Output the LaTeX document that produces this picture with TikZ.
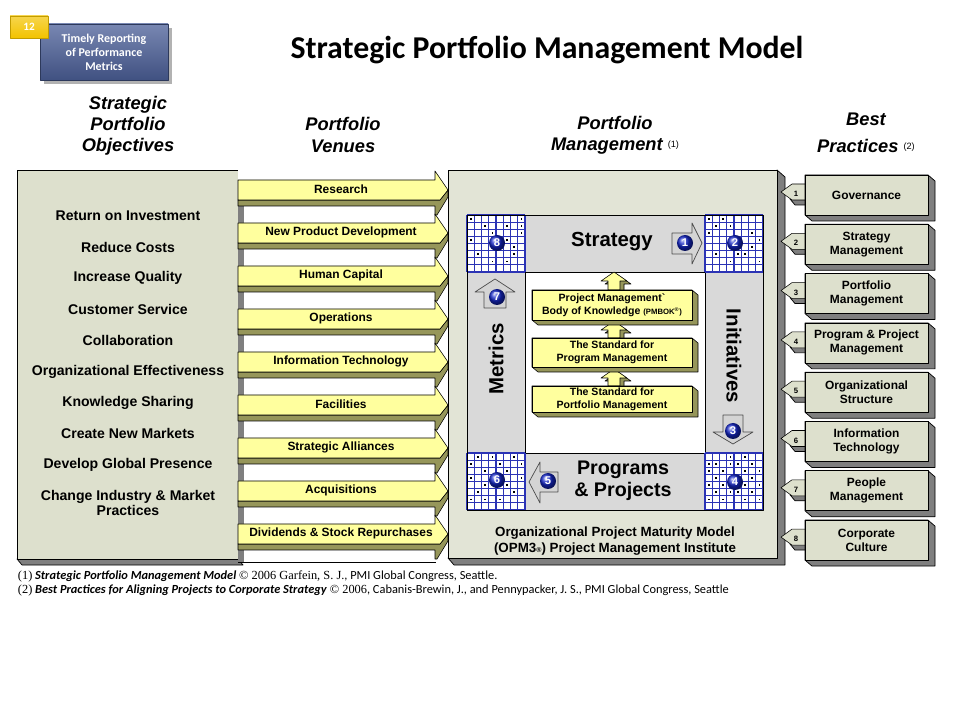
\documentclass[tikz,border=0pt]{standalone}
\usepackage{fontspec}
\setmainfont{Liberation Sans}
\newfontfamily\calfont{Carlito}
\newfontfamily\tnrfont{Liberation Serif}
\usetikzlibrary{shapes.geometric,arrows.meta,positioning,calc}

\definecolor{cSage}{HTML}{DDE0CD}
\definecolor{cSageLt}{HTML}{E2E4D6}
\definecolor{cShade}{HTML}{7F7F7F}
\definecolor{cOlive}{HTML}{96965A}
\definecolor{cYellow}{HTML}{FFFF9E}
\definecolor{cBand}{HTML}{D9D9D9}
\definecolor{cGrid}{HTML}{2B33B5}
\definecolor{cBall}{HTML}{1426C8}
\definecolor{cBadge}{HTML}{4B5F98}
\definecolor{cGold}{HTML}{F3C300}
\definecolor{cArrow}{HTML}{D4D4D4}

\newcommand{\pxu}{0.025cm}

\tikzset{
  hdr/.style    = {font=\fontsize{13}{15}\selectfont\bfseries\itshape, align=center},
  obj/.style    = {font=\fontsize{10}{10.5}\selectfont\bfseries, align=center},
  ven/.style    = {font=\fontsize{8.5}{10}\selectfont\bfseries},
  face/.style   = {rectangle, draw=black, fill=#1, line width=0.5pt, inner sep=0pt,
                   outer sep=0pt, anchor=north west},
  face/.default = cSage,
  depth/.style  = {fill=cShade, draw=black, line width=0.5pt},
  olv/.style    = {fill=cOlive, draw=black, line width=0.4pt},
  yel/.style    = {fill=cYellow, draw=black, line width=0.4pt},
  bandtxt/.style= {font=\fontsize{14.5}{16}\selectfont\bfseries, align=center},
  gridln/.style = {draw=cGrid, line width=0.8pt},
  ball/.style   = {circle, shading=ball, ball color=cBall, text=white, inner sep=0pt,
                   minimum size=16*\pxu, font=\fontsize{8}{8}\selectfont\bfseries},
  garr/.style   = {fill=cArrow, draw=black!70, line width=0.5pt},
  bp/.style     = {face, minimum width=123*\pxu, minimum height=40*\pxu, align=center,
                   font=\fontsize{8.5}{10}\selectfont\bfseries},
  stdbox/.style = {face=cYellow, minimum width=160*\pxu, align=center,
                   font=\fontsize{7.5}{9}\selectfont\bfseries},
  note/.style   = {anchor=west, font=\calfont\fontsize{8.8}{11}\selectfont},
}

% one 8x8 maturity grid, dots given as col/row
\newcommand{\opmgrid}[3]{%
  \begin{scope}[shift={(#1,#2)}]
    \fill[white] (0,0) rectangle (58,57);
    \foreach \k in {0,...,8} {
      \draw[gridln] (7.25*\k,0) -- (7.25*\k,57);
      \draw[gridln] (0,7.125*\k) -- (58,7.125*\k);
    }
    \foreach \c/\r in {#3} \fill (7.25*\c+2.8,7.125*\r+2.8) rectangle +(1.8,1.8);
  \end{scope}}

\begin{document}
\begin{tikzpicture}[x=\pxu, y=-\pxu, line join=round]
  \useasboundingbox (0,0) rectangle (960,720);
  \fill[white] (0,0) rectangle (960,720);

  % slide badge
  \fill[black!30] (44,28) rectangle (172,84);
  \node[face, top color=cBadge!75!white, bottom color=cBadge!85!black, draw=cBadge!60!black,
        minimum width=128*\pxu, minimum height=56*\pxu, text=white, align=center,
        font=\calfont\fontsize{8.5}{10}\selectfont\bfseries] (timely) at (40,24)
        {Timely Reporting\\of Performance\\Metrics};
  \node[face, top color=cGold!70!white, bottom color=cGold, draw=cGold!80!black,
        minimum width=38*\pxu, minimum height=22*\pxu, text=white,
        font=\calfont\fontsize{8}{9}\selectfont\bfseries] (slideno) at (10,16) {12};

  \node[font=\calfont\fontsize{22.6}{26}\selectfont\bfseries] (title) at (547,50)
        {Strategic Portfolio Management Model};

  % column heads
  \node[hdr] (hobj) at (128,126) {Strategic\\Portfolio\\Objectives};
  \node[hdr] (hven) at (343,135) {Portfolio\\Venues};
  \node[hdr] (hpm) at (615,135)
        {Portfolio\\Management {\upshape\mdseries\fontsize{6.5}{7}\selectfont\raisebox{0.6ex}{(1)}}};
  \node[hdr, font=\fontsize{13}{19}\selectfont\bfseries\itshape] (hbp) at (866,133)
        {Best\\Practices {\upshape\mdseries\fontsize{6.5}{7}\selectfont\raisebox{0.6ex}{(2)}}};

  % objectives
  \filldraw[depth] (17,559) -- (238,559) -- (243,565) -- (22,565) -- cycle;
  \node[face, minimum width=221*\pxu, minimum height=389*\pxu] (objbox) at (17,170) {};
  \foreach \txt [count=\i from 0] in {Return on Investment, Reduce Costs, Increase Quality,
      Customer Service, Collaboration, Organizational Effectiveness, Knowledge Sharing,
      Create New Markets, Develop Global Presence}
    \node[obj] (obj\i) at (128,216+31.1*\i) {\txt};
  \node[obj] (obj9) at (128,503) {Change Industry \& Market\\Practices};

  % venues
  \fill[white] (238,170) rectangle (440,562);
  \draw[line width=0.4pt] (238,562) -- (436,562);
  \foreach \v [count=\i from 0] in {Research, New Product Development, Human Capital,
      Operations, Information Technology, Facilities, Strategic Alliances, Acquisitions,
      Dividends \& Stock Repurchases} {
    \pgfmathsetmacro\t{180+43*\i}
    \fill[cShade] (238,\t+26) rectangle (244,{min(\t+43,562)});
    \filldraw[olv] (238,\t+20) -- (440,\t+20) -- (448,\t+10) -- (448,\t+17) -- (437,\t+35)
      -- (435,\t+35) -- (435,\t+26) -- (238,\t+26) -- cycle;
    \filldraw[yel] (238,\t) -- (435,\t) -- (435,\t-9) -- (448,\t+10) -- (440,\t+20)
      -- (238,\t+20) -- cycle;
    \node[ven] (ven\i) at (341,\t+9) {\v};
  }

  % portfolio management model
  \filldraw[depth] (777,170) -- (785,177) -- (785,565) -- (454,565) -- (448,558) -- (777,558) -- cycle;
  \node[face=cSageLt, minimum width=329*\pxu, minimum height=388*\pxu] (pmbox) at (448,170) {};

  \node[face=cBand, minimum width=180*\pxu, minimum height=57*\pxu] (strat) at (525,215) {};
  \node[face=cBand, minimum width=58*\pxu, minimum height=181*\pxu] (metr) at (467,272) {};
  \node[face=cBand, minimum width=58*\pxu, minimum height=181*\pxu] (init) at (705,272) {};
  \node[face=cBand, minimum width=180*\pxu, minimum height=57*\pxu] (prog) at (525,453) {};
  \node[face=white, minimum width=180*\pxu, minimum height=181*\pxu] (core) at (525,272) {};

  \node[bandtxt] (strattxt) at (612,242) {Strategy};
  \node[bandtxt, rotate=90] (metrtxt) at (496,359) {Metrics};
  \node[bandtxt, rotate=-90] (inittxt) at (734,356) {Initiatives};
  \node[bandtxt, font=\fontsize{14}{15.5}\selectfont\bfseries] (progtxt) at (623,481)
        {Programs\\\& Projects};

  \opmgrid{467}{215}{0/0,7/0,2/1,5/1,7/1,3/2,7/2,0/3,5/3,3/4,6/4,1/5,6/5,3/6,5/6}
  \opmgrid{705}{215}{0/0,2/0,1/1,3/1,0/2,6/2,4/3,7/3,6/4,1/5,4/5,5/5,3/6,7/6}
  \opmgrid{467}{453}{1/0,3/0,6/0,0/1,4/1,7/1,2/2,5/2,0/3,4/3,7/3,2/4,5/4,1/5,6/5,0/6,2/6,4/6}
  \opmgrid{705}{453}{3/0,5/0,0/1,1/1,3/1,4/1,6/1,0/2,2/2,5/2,7/2,1/3,3/3,6/3,0/4,2/4,5/4,7/4,1/5,3/5,4/5,6/5,0/6,2/6,5/6,7/6}
  \draw[line width=0.6pt] (467,215) rectangle (763,510);

  % cycle arrows
  \filldraw[garr] (672,233) -- (692,233) -- (692,223) -- (702,243) -- (692,264) -- (692,254) -- (672,254) -- cycle;
  \filldraw[garr] (723,415) -- (743,415) -- (743,432) -- (753,432) -- (733,444) -- (713,432) -- (723,432) -- cycle;
  \filldraw[garr] (558,472) -- (540,472) -- (540,462) -- (529,482) -- (540,503) -- (540,492) -- (558,492) -- cycle;
  \filldraw[garr] (484,308) -- (484,292) -- (475,292) -- (495,279) -- (515,292) -- (506,292) -- (506,308) -- cycle;

  \node[ball] (b1) at (685,243) {1};
  \node[ball] (b2) at (735,243) {2};
  \node[ball] (b3) at (733,431) {3};
  \node[ball] (b4) at (735,482) {4};
  \node[ball] (b5) at (548,481) {5};
  \node[ball] (b6) at (497,480) {6};
  \node[ball] (b7) at (497,297) {7};
  \node[ball] (b8) at (497,243) {8};

  % PMI standards
  \foreach \ya/\yb in {290/272, 338/321, 386/369} {
    \filldraw[olv] (612,\ya+3) -- (612,\yb+12) -- (605,\yb+12) -- (618,\yb+3) -- (631,\yb+12)
      -- (624,\yb+12) -- (624,\ya+3) -- cycle;
    \filldraw[yel] (608,\ya) -- (608,\yb+9) -- (601,\yb+9) -- (614,\yb) -- (627,\yb+9)
      -- (620,\yb+9) -- (620,\ya) -- cycle;
  }
  \foreach \yt/\yh/\nm/\txt in {290/30/pmbok/{Project Management\textasciigrave\\Body of Knowledge
        {\fontsize{5.5}{6}\selectfont(PMBOK\textsuperscript{®})}},
      338/29/pgm/{The Standard for\\Program Management},
      386/26/pfm/{The Standard for\\Portfolio Management}} {
    \filldraw[olv] (532,\yt) -- (692,\yt) -- (698,\yt+5) -- (698,\yt+\yh+5) -- (538,\yt+\yh+5)
      -- (532,\yt+\yh) -- cycle;
    \node[stdbox, minimum height=\yh*\pxu] (\nm) at (532,\yt) {\txt};
  }

  \node[align=center, font=\fontsize{9.5}{10.8}\selectfont\bfseries] (opm) at (615,541)
        {Organizational Project Maturity Model\\(OPM3{\fontsize{5}{6}\selectfont®}) Project Management Institute};

  % best practices
  \foreach \bpt [count=\i] in {Governance, {Strategy\\Management}, {Portfolio\\Management},
      {Program \& Project\\Management}, {Organizational\\Structure}, {Information\\Technology},
      {People\\Management}, {Corporate\\Culture}} {
    \pgfmathsetmacro\b{175+49.3*(\i-1)}
    \filldraw[depth] (790,\b+24) -- (806,\b+24) -- (806,\b+30) -- (795,\b+30) -- cycle;
    \filldraw[fill=cSage, draw=black, line width=0.4pt] (806,\b+9) -- (792,\b+9) -- (781,\b+17)
      -- (792,\b+25) -- (806,\b+25) -- cycle;
    \node[font=\fontsize{5.5}{6}\selectfont\bfseries] (tag\i) at (796,\b+19) {\i};
    \filldraw[depth] (805,\b) -- (928,\b) -- (935,\b+6) -- (935,\b+46) -- (812,\b+46) -- (805,\b+40) -- cycle;
    \node[bp] (bp\i) at (805,\b) {\bpt};
  }

  % sources
  \node[note] (fn1) at (13,576) {{\tnrfont(1)} \textbf{\textit{Strategic Portfolio Management Model}}
        {\tnrfont© 2006 Garfein, S. J.}, PMI Global Congress, Seattle.};
  \node[note] (fn2) at (13,590) {{\tnrfont(2)} \textbf{\textit{Best Practices for Aligning Projects to Corporate Strategy}}
        {\tnrfont© 2006}, Cabanis-Brewin, J., and Pennypacker, J. S., PMI Global Congress, Seattle};
\end{tikzpicture}
\end{document}
